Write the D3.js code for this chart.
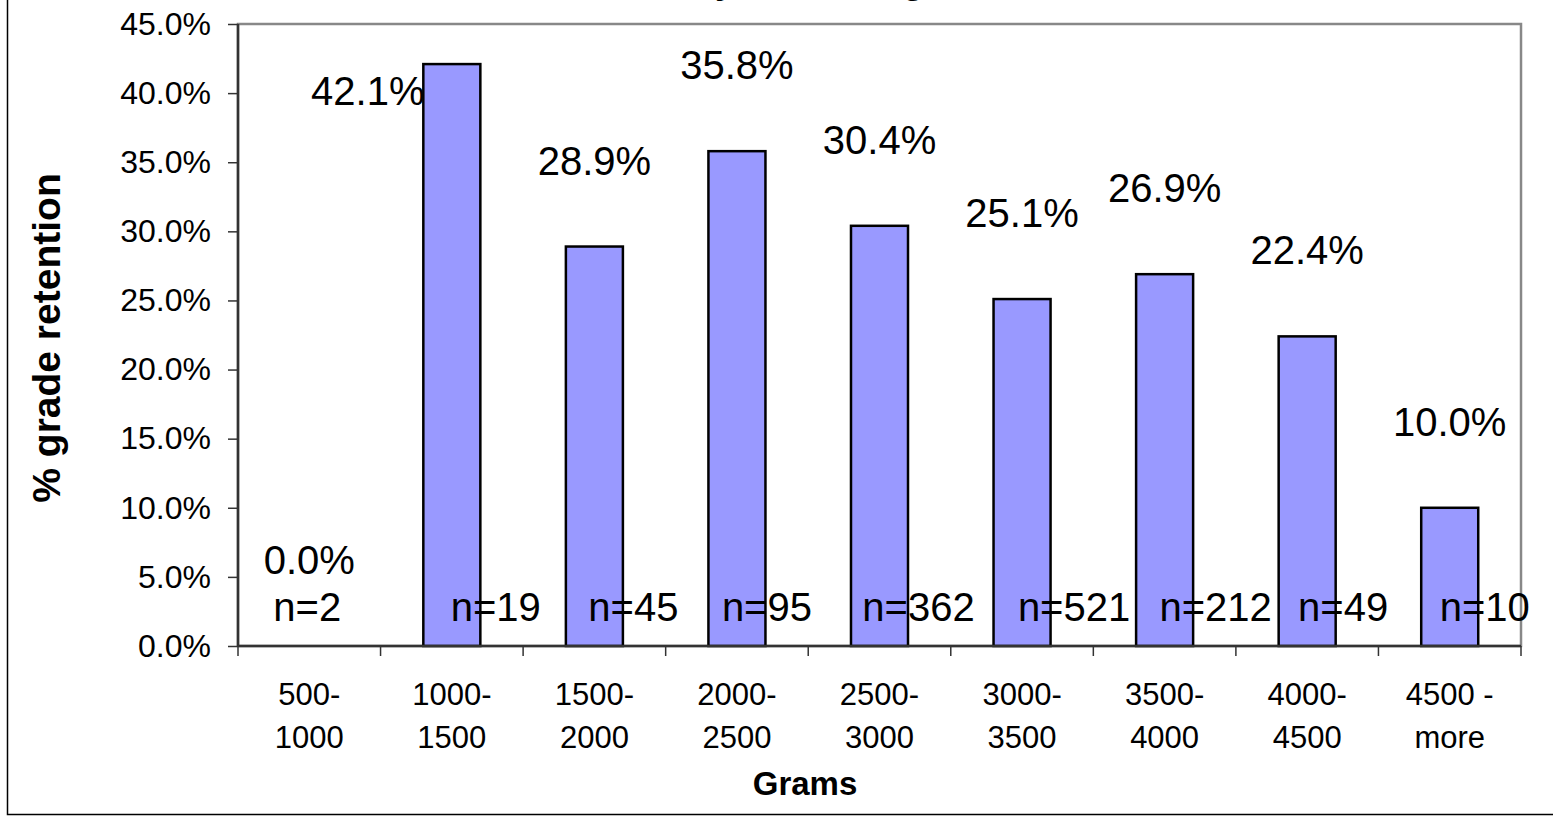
<!DOCTYPE html>
<html>
<head>
<meta charset="utf-8">
<script src="https://cdn.jsdelivr.net/npm/d3@7"></script>
<style>
  body { margin: 0; background: #fff; }
  svg { display: block; font-family: "Liberation Sans", Arial, sans-serif; }
</style>
</head>
<body>
<svg id="chart" width="1553" height="816"></svg>
<script>
// data
var categories = ["500-|1000", "1000-|1500", "1500-|2000", "2000-|2500", "2500-|3000",
                  "3000-|3500", "3500-|4000", "4000-|4500", "4500 -|more"];
var retention = [0.0, 0.421, 0.289, 0.358, 0.304, 0.251, 0.269, 0.224, 0.100];
var counts = [2, 19, 45, 95, 362, 521, 212, 49, 10];
var yTicks = [0, 0.05, 0.10, 0.15, 0.20, 0.25, 0.30, 0.35, 0.40, 0.45];

// layout only: hand placed labels in the original
var countNudge = [-2, 44, 39, 30, 39, 52, 51, 36, 35];
var valueNudge = { 1: [-84, 113] };

var width = 1553, height = 816;
var plot = { left: 238, right: 1521, top: 24, bottom: 646 };

var svg = d3.select("#chart");

svg.append("rect")
    .attr("width", width).attr("height", height)
    .attr("fill", "#fff");

// chart area border (cut off at top and right)
svg.append("rect")
    .attr("x", 7.5).attr("y", -20)
    .attr("width", 1700).attr("height", 834.5)
    .attr("fill", "none")
    .attr("stroke", "#000")
    .attr("stroke-width", 1.5);

// title, only descenders visible
svg.append("text")
    .attr("x", 693).attr("y", -7)
    .attr("font-size", 36).attr("font-weight", "bold")
    .text("by Birth Weight");

var x = d3.scaleBand()
    .domain(categories)
    .range([plot.left, plot.right])
    .paddingInner(0.6)
    .paddingOuter(0.3);

var y = d3.scaleLinear()
    .domain([0, 0.45])
    .range([plot.bottom, plot.top]);

// plot area frame
svg.append("rect")
    .attr("x", plot.left).attr("y", plot.top)
    .attr("width", plot.right - plot.left)
    .attr("height", plot.bottom - plot.top)
    .attr("fill", "none")
    .attr("stroke", "#888")
    .attr("stroke-width", 2.5);

// bars
svg.selectAll("rect.bar")
    .data(retention)
    .enter()
    .append("rect")
    .classed("bar", true)
    .attr("x", function (d, i) { return x(categories[i]); })
    .attr("y", function (d) { return y(d); })
    .attr("width", x.bandwidth())
    .attr("height", function (d) { return y(0) - y(d); })
    .attr("fill", "#9999ff")
    .attr("stroke", "#000")
    .attr("stroke-width", 2.5)
    .style("display", function (d) { return d > 0 ? null : "none"; });

// y axis
var yAxis = d3.axisLeft(y)
    .tickValues(yTicks)
    .tickFormat(d3.format(".1%"))
    .tickSize(10)
    .tickPadding(17);

var gy = svg.append("g")
    .attr("transform", "translate(" + plot.left + ",0)")
    .call(yAxis);
gy.selectAll("text").attr("font-size", 32).attr("fill", "#000")
    .attr("font-family", "Liberation Sans, Arial, sans-serif");
gy.selectAll("line").attr("stroke", "#333").attr("stroke-width", 1.5);
gy.select(".domain").attr("stroke", "#333").attr("stroke-width", 2.5)
    .attr("d", "M0," + plot.top + "V" + plot.bottom);

// x axis line and boundary ticks
var gap = (x.step() - x.bandwidth()) / 2;
var bounds = categories.map(function (c) { return x(c) - gap; });
bounds.push(plot.right);

var gx = svg.append("g");
gx.append("line")
    .attr("x1", plot.left).attr("x2", plot.right)
    .attr("y1", plot.bottom).attr("y2", plot.bottom)
    .attr("stroke", "#333").attr("stroke-width", 2.5);
gx.selectAll("line.tick")
    .data(bounds)
    .enter()
    .append("line")
    .classed("tick", true)
    .attr("x1", function (d) { return d; })
    .attr("x2", function (d) { return d; })
    .attr("y1", plot.bottom)
    .attr("y2", plot.bottom + 10)
    .attr("stroke", "#333").attr("stroke-width", 1.5);

// x tick labels, two lines
var xl = svg.selectAll("text.xlab")
    .data(categories)
    .enter()
    .append("text")
    .classed("xlab", true)
    .attr("text-anchor", "middle")
    .attr("font-size", 31)
    .attr("transform", function (d) {
        return "translate(" + (x(d) + x.bandwidth() / 2) + ",705)";
    });
xl.selectAll("tspan")
    .data(function (d) { return d.split("|"); })
    .enter()
    .append("tspan")
    .attr("x", 0)
    .attr("y", function (d, i) { return i * 43; })
    .text(function (d) { return d; });

// value labels
svg.selectAll("text.val")
    .data(retention)
    .enter()
    .append("text")
    .classed("val", true)
    .attr("text-anchor", "middle")
    .attr("font-size", 40)
    .attr("x", function (d, i) {
        var n = valueNudge[i] ? valueNudge[i][0] : 0;
        return x(categories[i]) + x.bandwidth() / 2 + n;
    })
    .attr("y", function (d, i) {
        var n = valueNudge[i] ? valueNudge[i][1] : 0;
        return y(d) - 72 + n;
    })
    .text(function (d) { return d3.format(".1%")(d); });

// sample size labels
svg.selectAll("text.cnt")
    .data(counts)
    .enter()
    .append("text")
    .classed("cnt", true)
    .attr("text-anchor", "middle")
    .attr("font-size", 40)
    .attr("x", function (d, i) { return x(categories[i]) + x.bandwidth() / 2 + countNudge[i]; })
    .attr("y", 621)
    .text(function (d) { return "n=" + d; });

// axis titles
svg.append("text")
    .attr("text-anchor", "middle")
    .attr("font-size", 33).attr("font-weight", "bold")
    .attr("x", 805).attr("y", 795)
    .text("Grams");

svg.append("text")
    .attr("text-anchor", "middle")
    .attr("font-size", 39).attr("font-weight", "bold")
    .attr("transform", "translate(60,338) rotate(-90)")
    .text("% grade retention");
</script>
</body>
</html>
